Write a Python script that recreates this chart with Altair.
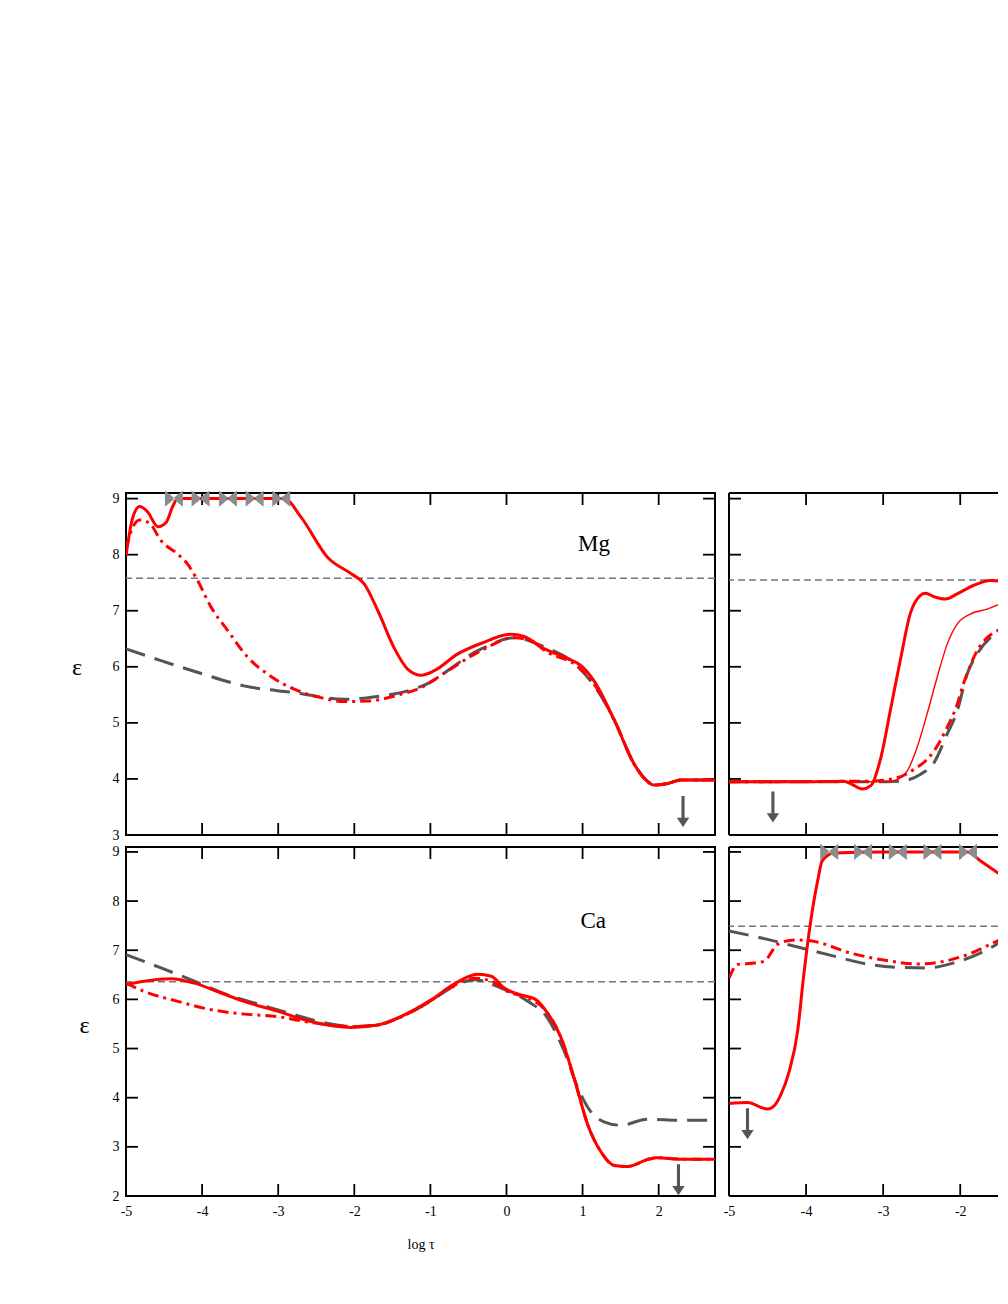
import altair as alt
import pandas as pd

FONT = "Liberation Serif"
RED = "#ff0000"
GREY_D = "#555555"
GREY_H = "#777777"
MARK_GREY = "#8c8c8c"

XMIN = -5.0
XMAX_L = 2.74          # left column x range
XMAX_R = -1.51         # right column: only the part that fits in the window
XTICKS = [-5, -4, -3, -2, -1, 0, 1, 2]

# ---------------- Mg, left column ----------------
mg_l_solid_x = [-5.0, -4.91, -4.82, -4.72, -4.58, -4.47, -4.39, -4.32, -4.0, -3.5, -2.92, -2.70, -2.35,
                -2.04, -1.87, -1.69, -1.47, -1.30, -1.12, -0.95, -0.64, -0.33, 0.06, 0.23, 0.50, 0.80,
                0.98, 1.15, 1.42, 1.68, 1.85, 1.94, 2.12, 2.29, 2.74]
mg_l_solid_y = [7.98, 8.67, 8.86, 8.77, 8.50, 8.58, 8.85, 9.0, 9.0, 9.0, 9.0, 8.67, 7.95,
                7.66, 7.48, 7.0, 6.32, 5.96, 5.85, 5.93, 6.23, 6.42, 6.58, 6.54, 6.32, 6.15,
                6.02, 5.75, 5.04, 4.26, 3.96, 3.89, 3.92, 3.98, 3.98]
mg_l_dd_x = [-5.0, -4.91, -4.82, -4.69, -4.54, -4.32, -4.19, -4.06, -3.88, -3.66, -3.40, -3.14, -2.79,
             -2.44, -2.13, -1.82, -1.39, -1.12, -0.77, -0.33, 0.10, 0.32, 0.54, 0.94, 1.15, 1.42,
             1.68, 1.85, 1.94, 2.12, 2.29, 2.74]
mg_l_dd_y = [8.10, 8.49, 8.62, 8.56, 8.25, 8.01, 7.83, 7.54, 7.06, 6.64, 6.17, 5.87, 5.60,
             5.45, 5.38, 5.39, 5.51, 5.63, 5.93, 6.29, 6.52, 6.46, 6.26, 6.0, 5.69, 5.04,
             4.26, 3.96, 3.89, 3.92, 3.98, 3.98]
mg_l_lte_x = [-5.0, -4.54, -4.01, -3.45, -2.79, -2.13, -1.65, -1.39, -1.12, -0.33, 0.10, 0.45, 0.94,
              1.20, 1.42, 1.68, 1.85, 1.94, 2.12, 2.29, 2.74]
mg_l_lte_y = [6.32, 6.11, 5.88, 5.66, 5.54, 5.42, 5.48, 5.54, 5.65, 6.32, 6.52, 6.38, 6.0,
              5.57, 5.04, 4.26, 3.96, 3.89, 3.92, 3.98, 3.98]
mg_l_ref = 7.58
mg_l_marks_x = [-4.37, -4.02, -3.66, -3.31, -2.96]
mg_l_arrow = (2.32, 3.42)

# ---------------- Mg, right column ----------------
mg_r_solid_x = [-5.0, -4.0, -3.51, -3.40, -3.27, -3.16, -3.03, -2.90, -2.77, -2.65, -2.54, -2.45,
                -2.34, -2.19, -2.04, -1.83, -1.61, -1.39]
mg_r_solid_y = [3.95, 3.95, 3.96, 3.90, 3.82, 3.88, 4.38, 5.27, 6.17, 6.94, 7.24, 7.31,
                7.25, 7.21, 7.30, 7.45, 7.54, 7.51]
mg_r_thin_x = [-5.0, -3.0, -2.86, -2.69, -2.56, -2.43, -2.30, -2.17, -2.04, -1.87, -1.65, -1.39]
mg_r_thin_y = [3.95, 3.95, 3.97, 4.14, 4.56, 5.16, 5.81, 6.40, 6.76, 6.94, 7.03, 7.18]
mg_r_dd_x = [-5.0, -3.2, -2.82, -2.60, -2.43, -2.34, -2.17, -2.04, -1.96, -1.87, -1.78, -1.65, -1.48, -1.39]
mg_r_dd_y = [3.95, 3.96, 4.02, 4.17, 4.35, 4.50, 4.92, 5.33, 5.69, 6.02, 6.29, 6.52, 6.67, 6.73]
mg_r_lte_x = [-5.0, -2.95, -2.77, -2.52, -2.34, -2.17, -2.04, -1.91, -1.78, -1.61, -1.39]
mg_r_lte_y = [3.95, 3.95, 3.96, 4.08, 4.29, 4.80, 5.21, 5.87, 6.23, 6.52, 6.70]
mg_r_ref = 7.55
mg_r_arrow = (-4.43, 3.50)

# ---------------- Ca, left column ----------------
ca_l_solid_x = [-5.0, -4.76, -4.41, -4.10, -3.80, -3.45, -3.01, -2.57, -2.04, -1.69, -1.39, -0.99, -0.69,
                -0.38, -0.20, -0.03, 0.19, 0.37, 0.54, 0.72, 0.89, 1.07, 1.24, 1.42, 1.59, 1.85,
                1.98, 2.29, 2.74]
ca_l_solid_y = [6.30, 6.37, 6.42, 6.33, 6.16, 5.96, 5.76, 5.55, 5.43, 5.48, 5.65, 5.99, 6.31,
                6.51, 6.47, 6.23, 6.09, 6.01, 5.72, 5.21, 4.39, 3.44, 2.90, 2.62, 2.60, 2.74,
                2.78, 2.75, 2.75]
ca_l_dd_x = [-5.0, -4.76, -4.32, -3.88, -3.45, -3.01, -2.57, -2.04, -1.69, -1.39, -0.99, -0.69, -0.42,
             -0.20, 0.0, 0.28, 0.50, 0.72, 0.89, 1.07, 1.24, 1.42, 1.59, 1.85, 1.98, 2.29, 2.74]
ca_l_dd_y = [6.33, 6.16, 5.96, 5.79, 5.70, 5.65, 5.53, 5.45, 5.48, 5.64, 5.98, 6.28, 6.43,
             6.37, 6.17, 6.03, 5.80, 5.21, 4.39, 3.44, 2.90, 2.62, 2.60, 2.74, 2.78, 2.75, 2.75]
ca_l_lte_x = [-5.0, -4.54, -4.10, -3.66, -3.23, -2.79, -2.35, -2.0, -1.69, -1.39, -0.99, -0.69, -0.42,
              -0.07, 0.28, 0.54, 0.76, 0.94, 1.11, 1.28, 1.50, 1.85, 2.29, 2.70]
ca_l_lte_y = [6.91, 6.64, 6.37, 6.09, 5.89, 5.69, 5.51, 5.45, 5.48, 5.64, 5.97, 6.27, 6.40,
              6.23, 5.96, 5.62, 4.94, 4.19, 3.71, 3.51, 3.44, 3.56, 3.54, 3.54]
ca_l_ref = 6.36
ca_l_arrow = (2.26, 2.33)

# ---------------- Ca, right column ----------------
ca_r_solid_x = [-5.0, -4.76, -4.50, -4.41, -4.33, -4.22, -4.11, -4.03, -3.94, -3.85, -3.79, -3.64,
                -3.0, -2.5, -1.91, -1.74, -1.39]
ca_r_solid_y = [3.88, 3.90, 3.77, 3.84, 4.05, 4.53, 5.35, 6.50, 7.59, 8.41, 8.82, 8.98,
                9.0, 9.0, 9.0, 8.82, 8.44]
ca_r_dd_x = [-5.0, -4.89, -4.67, -4.54, -4.37, -4.15, -3.90, -3.42, -2.95, -2.56, -2.26, -1.91, -1.61, -1.39]
ca_r_dd_y = [6.43, 6.71, 6.74, 6.78, 7.12, 7.21, 7.18, 6.94, 6.79, 6.72, 6.76, 6.91, 7.12, 7.29]
ca_r_lte_x = [-5.0, -4.50, -4.07, -3.64, -3.21, -2.77, -2.43, -2.09, -1.74, -1.39]
ca_r_lte_y = [7.39, 7.22, 7.05, 6.88, 6.72, 6.65, 6.64, 6.74, 6.94, 7.25]
ca_r_ref = 7.49
ca_r_marks_x = [-3.70, -3.26, -2.81, -2.36, -1.90]
ca_r_arrow = (-4.76, 3.47)

TOP_Y = [3, 4, 5, 6, 7, 8, 9]
BOT_Y = [2, 3, 4, 5, 6, 7, 8, 9]

BOWTIE = "M-1,-0.9L0.12,0L-1,0.9Z M1,-0.9L-0.12,0L1,0.9Z"
ARROW = "M-0.1,-1L0.1,-1L0.1,0.4L0.4,0.4L0,1L-0.4,0.4L-0.1,0.4Z"

STYLES = {
    "lte": dict(color=GREY_D, strokeWidth=3, strokeDash=[20, 10]),
    "dd": dict(color=RED, strokeWidth=3, strokeDash=[11, 5, 3, 5]),
    "thin": dict(color=RED, strokeWidth=1.4),
    "solid": dict(color=RED, strokeWidth=3),
}


def panel(lines, ref, ydom, yticks, width, height, xmax, ylabels=False, xlabels=False,
          xtitle=None, ytitle_pos=None, marks_x=None, arrow=None, label=None, open_right=False):
    xscale = alt.Scale(domain=[XMIN, xmax], nice=False, zero=False)
    yscale = alt.Scale(domain=ydom, nice=False, zero=False)
    xticks = [v for v in XTICKS if XMIN <= v <= xmax]
    if xlabels:
        xaxis = alt.Axis(values=xticks, ticks=False, domain=False, grid=False,
                         labelFlush=False, labelOverlap=False,
                         labelPadding=8, labelFontSize=14, labelFont=FONT, labelColor="black",
                         labelExpr="'' + datum.value",
                         title=xtitle if xtitle else None,
                         titleFont=FONT, titleFontSize=14, titleFontWeight="normal",
                         titleX=width / 2, titleY=48, titleBaseline="middle", titleAlign="center")
    else:
        xaxis = None
    if ylabels:
        yaxis = alt.Axis(values=yticks, ticks=False, domain=False, grid=False,
                         labelFlush=False, labelOverlap=False,
                         labelPadding=7, labelFontSize=14, labelFont=FONT, labelColor="black",
                         title="ε", titleAngle=0, titleFont=FONT, titleFontSize=24,
                         titleFontWeight="normal", titleX=ytitle_pos[0], titleY=ytitle_pos[1],
                         titleAlign="center", titleBaseline="middle")
    else:
        yaxis = None

    def X(f):
        return alt.X(f, type="quantitative", scale=xscale, axis=xaxis)

    def Y(f):
        return alt.Y(f, type="quantitative", scale=yscale, axis=yaxis)

    layers = []
    ydf = pd.DataFrame({"v": yticks})
    xdf = pd.DataFrame({"v": xticks})
    tick = dict(color="black", strokeWidth=1.8)
    layers.append(alt.Chart(ydf).mark_rule(**tick).encode(y=Y("v"), x=alt.value(0), x2=alt.value(12)))
    if not open_right:
        layers.append(alt.Chart(ydf).mark_rule(**tick).encode(y=Y("v"), x=alt.value(width - 12), x2=alt.value(width)))
    layers.append(alt.Chart(xdf).mark_rule(**tick).encode(x=X("v"), y=alt.value(height - 12), y2=alt.value(height)))
    layers.append(alt.Chart(xdf).mark_rule(**tick).encode(x=X("v"), y=alt.value(0), y2=alt.value(12)))
    if open_right:
        frame = dict(color="black", strokeWidth=2)
        layers.append(alt.Chart(ydf).mark_rule(**frame).encode(
            x=alt.value(0), y=alt.value(0), y2=alt.value(height)))
        layers.append(alt.Chart(ydf).mark_rule(**frame).encode(
            y=alt.value(0), x=alt.value(0), x2=alt.value(width)))
        layers.append(alt.Chart(ydf).mark_rule(**frame).encode(
            y=alt.value(height), x=alt.value(0), x2=alt.value(width)))
    layers.append(alt.Chart(pd.DataFrame({"y": [ref]})).mark_rule(
        color=GREY_H, strokeWidth=1.5, strokeDash=[7, 4]).encode(y=Y("y")))
    for style, xs, ys in lines:
        df = pd.DataFrame({"x": xs, "y": ys})
        layers.append(alt.Chart(df).mark_line(interpolate="monotone", clip=True, **STYLES[style])
                      .encode(x=X("x"), y=Y("y")))
    if marks_x:
        mdf = pd.DataFrame({"x": marks_x, "y": [9.0] * len(marks_x)})
        layers.append(alt.Chart(mdf).mark_point(shape=BOWTIE, filled=True, color=MARK_GREY,
                                                size=324, opacity=1, strokeWidth=0)
                      .encode(x=X("x"), y=Y("y")))
    if arrow:
        adf = pd.DataFrame({"x": [arrow[0]], "y": [arrow[1]]})
        layers.append(alt.Chart(adf).mark_point(shape=ARROW, filled=True, color=GREY_D,
                                                size=961, opacity=1, strokeWidth=0)
                      .encode(x=X("x"), y=Y("y")))
    if label:
        ldf = pd.DataFrame({"x": [label[1]], "y": [label[2]], "t": [label[0]]})
        layers.append(alt.Chart(ldf).mark_text(font=FONT, fontSize=23, align="center",
                                               baseline="alphabetic", color="black")
                      .encode(x=X("x"), y=Y("y"), text="t:N"))
    ch = alt.layer(*layers).properties(width=width, height=height)
    if open_right:
        ch = ch.properties(view=alt.ViewBackground(stroke="transparent", strokeWidth=0))
    return ch


WL, WR = 589, 269
HT, HB = 342, 349

tl = panel([("lte", mg_l_lte_x, mg_l_lte_y), ("dd", mg_l_dd_x, mg_l_dd_y),
            ("solid", mg_l_solid_x, mg_l_solid_y)],
           mg_l_ref, [3, 9.1], TOP_Y, WL, HT, XMAX_L, ylabels=True, ytitle_pos=(-49.5, 174),
           marks_x=mg_l_marks_x, arrow=mg_l_arrow, label=("Mg", 1.15, 8.07))
tr = panel([("lte", mg_r_lte_x, mg_r_lte_y), ("dd", mg_r_dd_x, mg_r_dd_y),
            ("thin", mg_r_thin_x, mg_r_thin_y), ("solid", mg_r_solid_x, mg_r_solid_y)],
           mg_r_ref, [3, 9.1], TOP_Y, WR, HT, XMAX_R, arrow=mg_r_arrow, open_right=True)
bl = panel([("lte", ca_l_lte_x, ca_l_lte_y), ("dd", ca_l_dd_x, ca_l_dd_y),
            ("solid", ca_l_solid_x, ca_l_solid_y)],
           ca_l_ref, [2, 9.1], BOT_Y, WL, HB, XMAX_L, ylabels=True, xlabels=True, xtitle="log τ",
           ytitle_pos=(-42, 178), arrow=ca_l_arrow, label=("Ca", 1.14, 7.45))
br = panel([("lte", ca_r_lte_x, ca_r_lte_y), ("dd", ca_r_dd_x, ca_r_dd_y),
            ("solid", ca_r_solid_x, ca_r_solid_y)],
           ca_r_ref, [2, 9.1], BOT_Y, WR, HB, XMAX_R, xlabels=True,
           marks_x=ca_r_marks_x, arrow=ca_r_arrow, open_right=True)

chart = alt.concat(tl, tr, bl, br, columns=2, spacing={"row": 12, "column": 14},
                   bounds="flush").properties(
    padding={"left": 62, "top": 481, "right": 0, "bottom": 10},
    background="white",
).configure_view(stroke="black", strokeWidth=2)

chart.save("out.html", embed_options={"renderer": "svg", "actions": False})
